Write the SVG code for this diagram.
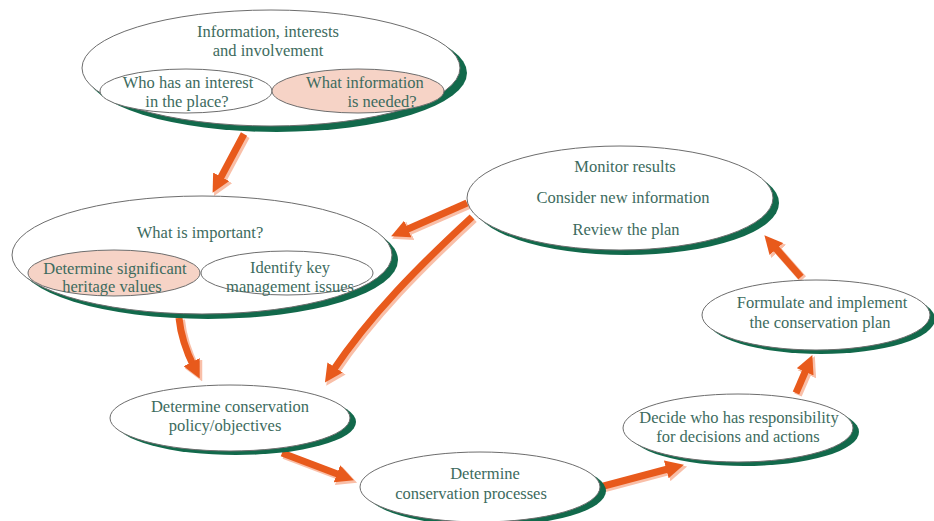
<svg xmlns="http://www.w3.org/2000/svg" width="934" height="521" viewBox="0 0 934 521" font-family="'Liberation Serif', 'DejaVu Serif', serif">
<style>
.sh{fill:#12694b}
.el{fill:#fff;stroke:#6d6d6d;stroke-width:1}
.pk{fill:#f6d3c6;stroke:#6d6d6d;stroke-width:1}
.in{fill:#fff;stroke:#6d6d6d;stroke-width:1}
.t{font-family:'Liberation Serif','DejaVu Serif',serif;font-size:16.5px;fill:#3d6b5e;text-anchor:middle}
.ar{fill:none;stroke:#e85a1c;stroke-width:7;marker-end:url(#h)}
.ars{fill:none;stroke:#f9bfa8;stroke-width:8;marker-end:url(#hs)}
</style>
<defs>
<marker id="h" viewBox="0 0 10 10" refX="3" refY="5" markerWidth="2.6" markerHeight="2.6" orient="auto"><path d="M0,0 L10,5 L0,10 z" fill="#e85a1c"/></marker>
<marker id="hs" viewBox="0 0 10 10" refX="3" refY="5" markerWidth="2.5" markerHeight="2.5" orient="auto"><path d="M0,0 L10,5 L0,10 z" fill="#f9bfa8"/></marker>
<path id="a1" d="M244,134 L218.6,181.6"/>
<path id="a2" d="M179,318 C181,338 187,353 194,367"/>
<path id="a3" d="M282,453 L342,475.8"/>
<path id="a4" d="M600,487 L671.6,468"/>
<path id="a5" d="M796,393 L807.3,366.8"/>
<path id="a6" d="M801,277 L772.8,244.9"/>
<path id="a7" d="M467,203 L402.8,231.2"/>
<path id="a8" d="M472,217 C420,265 370,315 332,372"/>
</defs>
<rect width="934" height="521" fill="#fff"/>

<g id="connectors">
<g transform="translate(2,2)">
<use href="#a1" class="ars"/><use href="#a2" class="ars"/><use href="#a3" class="ars"/><use href="#a4" class="ars"/>
<use href="#a5" class="ars"/><use href="#a6" class="ars"/><use href="#a7" class="ars"/><use href="#a8" class="ars"/>
</g>
<use href="#a1" class="ar"/><use href="#a2" class="ar"/><use href="#a3" class="ar"/><use href="#a4" class="ar"/>
<use href="#a5" class="ar"/><use href="#a6" class="ar"/><use href="#a7" class="ar"/><use href="#a8" class="ar"/>
</g>

<g id="node-information" class="t">
<ellipse class="sh" cx="277" cy="73" rx="190" ry="59"/>
<ellipse class="el" cx="271" cy="68" rx="189" ry="58"/>
<text x="268" y="37">Information, interests</text>
<text x="268" y="56">and involvement</text>
<ellipse class="in" cx="186" cy="91" rx="86" ry="22"/>
<ellipse class="pk" cx="358" cy="91" rx="86" ry="22"/>
<text x="188" y="88">Who has an interest</text>
<text x="187" y="107">in the place?</text>
<text x="365" y="88">What information</text>
<text x="382" y="107">is needed?</text>
</g>

<g id="node-important" class="t">
<ellipse class="sh" cx="208" cy="260" rx="190" ry="59"/>
<ellipse class="el" cx="202" cy="255" rx="190" ry="59"/>
<text x="200" y="238">What is important?</text>
<ellipse class="pk" cx="114" cy="273" rx="86" ry="23"/>
<ellipse class="in" cx="287" cy="273" rx="86" ry="22"/>
<text x="115" y="274">Determine significant</text>
<text x="112" y="292">heritage values</text>
<text x="290" y="273">Identify key</text>
<text x="290" y="292">management issues</text>
</g>

<g id="node-monitor" class="t">
<ellipse class="sh" cx="626" cy="203" rx="153" ry="52"/>
<ellipse class="el" cx="620" cy="198" rx="153" ry="52"/>
<text x="625" y="172">Monitor results</text>
<text x="623" y="203">Consider new information</text>
<text x="626" y="235">Review the plan</text>
</g>

<g id="node-formulate" class="t">
<ellipse class="sh" cx="821" cy="319" rx="114" ry="35"/>
<ellipse class="el" cx="816" cy="315" rx="114" ry="35"/>
<text x="822" y="308">Formulate and implement</text>
<text x="820" y="328">the conservation plan</text>
</g>

<g id="node-policy" class="t">
<ellipse class="sh" cx="236" cy="422" rx="120" ry="33"/>
<ellipse class="el" cx="230" cy="418" rx="120" ry="33"/>
<text x="230" y="412">Determine conservation</text>
<text x="225" y="431">policy/objectives</text>
</g>

<g id="node-processes" class="t">
<ellipse class="sh" cx="486" cy="491" rx="120" ry="35"/>
<ellipse class="el" cx="480" cy="487" rx="120" ry="35"/>
<text x="485" y="479">Determine</text>
<text x="471" y="499">conservation processes</text>
</g>

<g id="node-decide" class="t">
<ellipse class="sh" cx="744" cy="432" rx="115" ry="34"/>
<ellipse class="el" cx="738" cy="428" rx="115" ry="34"/>
<text x="739" y="423">Decide who has responsibility</text>
<text x="738" y="442">for decisions and actions</text>
</g>
</svg>
